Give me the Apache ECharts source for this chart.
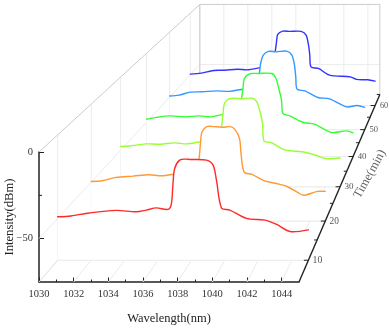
<!DOCTYPE html>
<html>
<head>
<meta charset="utf-8">
<style>html,body{margin:0;padding:0;background:#fff}#c{width:389px;height:328px}</style>
<script src="https://cdn.jsdelivr.net/npm/echarts@6/dist/echarts.min.js"></script>
</head>
<body>
<div id="c"></div>
<script>
// Series values: [wavelength nm, intensity dBm]
const scan10 = [[1030,-49],[1030.8,-48.5],[1031.9,-46.7],[1033.5,-45.2],[1034.7,-46],[1035.3,-45],[1035.9,-43.7],[1036.6,-44.6],[1036.8,-41.4],[1036.9,-29.1],[1037,-20.1],[1037.3,-15.1],[1037.7,-14.5],[1037.9,-14.7],[1038.9,-15.1],[1039.3,-18.1],[1039.5,-27.1],[1039.8,-43.7],[1040.3,-45],[1041.3,-50],[1042.4,-51],[1043.1,-53.6],[1043.9,-57.8],[1045,-56.8]];
const scan20 = [[1030,-49.6],[1030.7,-49.2],[1031.6,-47],[1032.7,-46.2],[1033.7,-45.3],[1034.5,-46],[1035.3,-44.9],[1036,-43.5],[1036.7,-44],[1036.9,-35.6],[1037,-25.2],[1037.1,-17.8],[1037.4,-14.5],[1037.7,-14.3],[1038.4,-14.9],[1038.9,-14.5],[1039.2,-16.2],[1039.5,-22],[1039.6,-31.6],[1039.8,-43.6],[1040.3,-45.1],[1041.1,-49.2],[1041.8,-50.8],[1042.5,-52.7],[1043.2,-56.4],[1043.6,-58.5],[1044.5,-56],[1045,-56]];
const scan30 = [[1030,-47.5],[1030.6,-47.1],[1031.7,-45.7],[1032.7,-45.9],[1033.7,-45],[1034.5,-45.7],[1035.4,-44.4],[1036,-43.8],[1036.7,-44.5],[1036.9,-33.9],[1037,-24.7],[1037.1,-17.9],[1037.4,-14.9],[1037.8,-14.5],[1038.3,-14.8],[1039,-14.5],[1039.3,-16.8],[1039.5,-22.5],[1039.7,-31.6],[1039.8,-43.7],[1040.3,-44.8],[1041.2,-49.8],[1041.8,-50.5],[1042.6,-51.4],[1043.3,-53.3],[1044,-55.7],[1045,-55.3]];
const scan40 = [[1030,-47.9],[1030.7,-46.6],[1031.7,-45.5],[1032.8,-46.2],[1033.8,-45.5],[1034.7,-46.2],[1035.5,-44.4],[1036.1,-43.5],[1036.7,-44.3],[1036.9,-32.8],[1037,-25.6],[1037.1,-18.3],[1037.5,-14.9],[1038.1,-14.7],[1039.1,-14.7],[1039.4,-18.3],[1039.6,-25.6],[1039.8,-34],[1039.9,-43.7],[1040.4,-45.5],[1041.4,-50.3],[1042.2,-51.5],[1043.4,-57.5],[1044.5,-56.4],[1045,-57.8]];
const scan50 = [[1030,-49.2],[1030.7,-48.5],[1031.6,-46.2],[1032.5,-45.9],[1033.6,-45.2],[1034.6,-45.6],[1035.5,-44.1],[1036.1,-43.7],[1036.7,-44.5],[1036.9,-31.7],[1037,-24.1],[1037.2,-17.7],[1037.6,-14.8],[1038.2,-15.2],[1039,-14.6],[1039.4,-17.7],[1039.6,-25.4],[1039.7,-34.4],[1039.8,-43.9],[1040.4,-45.2],[1041.4,-50.3],[1042.3,-51.3],[1043.6,-57.5],[1044.4,-56.4],[1045,-57.9]];
const scan60 = [[1030,-49.5],[1030.9,-48.7],[1031.9,-46.5],[1032.8,-46.3],[1033.8,-45.5],[1034.7,-46],[1035.6,-44.4],[1036.2,-43.6],[1036.7,-44.3],[1036.9,-30.8],[1037,-23.3],[1037.1,-17.3],[1037.5,-14.6],[1038.1,-14.8],[1039,-14.8],[1039.4,-17.8],[1039.6,-26],[1039.7,-34.1],[1039.8,-43.6],[1040.4,-44.9],[1041.3,-50.3],[1043,-51.7],[1043.5,-53.8],[1044.4,-54.1],[1045,-55.2]];

const times = [10, 20, 30, 40, 50, 60];
const scans = [scan10, scan20, scan30, scan40, scan50, scan60];
const colors = ['#ff2a2a', '#ff9933', '#99ff33', '#33ff33', '#3399ff', '#3333ff'];
const timeMinorTicks = [15, 25, 35, 45, 55, 65];
const wlMajor = [1032, 1034, 1036, 1038, 1040, 1042, 1044];
const wlMin = 1030, wlMax = 1045, dbMin = -75, dbMax = 0, timeMin = 5, timeMax = 65;

// perspective of the time axis: every point is pulled towards the vanishing point
const vanish = [562, -328];
const depthK = 0.444;
function scaleAt(t) { return 1 / (1 + depthK * (t - timeMin) / (timeMax - timeMin)); }
function project(api, wl, db, t) {
  const c = api.coord([wl, db]), s = scaleAt(t);
  return [vanish[0] + (c[0] - vanish[0]) * s, vanish[1] + (c[1] - vanish[1]) * s];
}
function seg(a, b, color, w) {
  return { type: 'line', shape: { x1: a[0], y1: a[1], x2: b[0], y2: b[1] }, style: { stroke: color, lineWidth: w } };
}

function renderWalls(params, api) {
  const el = [], soft = '#ececec', edge = '#cccccc';
  // side wall and floor, verticals and horizontals at each time
  times.forEach(t => {
    el.push(seg(project(api, wlMin, dbMax, t), project(api, wlMin, dbMin, t), soft, 1));
    el.push(seg(project(api, wlMin, dbMin, t), project(api, wlMax, dbMin, t), soft, 1));
  });
  // back wall and floor, lines at each wavelength
  wlMajor.forEach(w => {
    el.push(seg(project(api, w, dbMax, timeMax), project(api, w, dbMin, timeMax), soft, 1));
    el.push(seg(project(api, w, dbMin, timeMin), project(api, w, dbMin, timeMax), soft, 1));
  });
  el.push(seg(project(api, wlMin, -50, timeMin), project(api, wlMin, -50, timeMax), soft, 1));
  el.push(seg(project(api, wlMin, -50, timeMax), project(api, wlMax, -50, timeMax), soft, 1));
  el.push(seg(project(api, wlMin, dbMin, timeMax), project(api, wlMax, dbMin, timeMax), soft, 1));
  el.push(seg(project(api, wlMin, dbMin, timeMin), project(api, wlMin, dbMin, timeMax), '#dddddd', 1));
  // wall edges
  el.push(seg(project(api, wlMin, dbMax, timeMin), project(api, wlMin, dbMax, timeMax), edge, 1));
  el.push(seg(project(api, wlMin, dbMax, timeMax), project(api, wlMax, dbMax, timeMax), edge, 1));
  el.push(seg(project(api, wlMin, dbMax, timeMax), project(api, wlMin, dbMin, timeMax), edge, 1.2));
  el.push(seg(project(api, wlMax, dbMax, timeMax), project(api, wlMax, dbMin, timeMax), edge, 1));
  return { type: 'group', children: el };
}

function layerSeries(i) {
  const t = times[i], pts = scans[i], color = colors[i];
  return {
    type: 'custom', coordinateSystem: 'cartesian2d', silent: true, data: pts,
    encode: { x: 0, y: 1 }, clip: false,
    renderItem(params, api) {
      if (params.dataIndex !== 0) return null;
      const line = pts.map(p => project(api, p[0], p[1], t));
      const a = project(api, wlMin, dbMin, t), b = project(api, wlMax, dbMin, t);
      return { type: 'group', children: [
        { type: 'polygon', shape: { points: line.concat([b, a]) }, style: { fill: '#ffffff', stroke: null } },
        seg(a, b, '#ececec', 1),
        { type: 'polyline', shape: { points: line, smooth: 0.3 },
          style: { fill: null, stroke: color, lineWidth: 1.4, lineJoin: 'round', lineCap: 'round' } }
      ] };
    }
  };
}

function renderTimeAxis(params, api) {
  const el = [];
  const ink = '#222222';
  const start = project(api, wlMax, dbMin, timeMin), end = project(api, wlMax, dbMin, timeMax);
  el.push(seg(start, end, ink, 1.4));
  const tick = (t, len) => {
    const p = project(api, wlMax, dbMin, t);
    el.push(seg(p, [p[0] - len, p[1]], ink, 1));
    return p;
  };
  timeMinorTicks.forEach(t => tick(t, 3));
  times.forEach(t => {
    const p = tick(t, 4.5);
    el.push({ type: 'text', style: { text: String(t), x: p[0] + 9, y: p[1], align: 'center', verticalAlign: 'middle',
      fontFamily: '"Liberation Serif"', fontSize: 10 * (0.4 + 0.6 * scaleAt(t)), fill: '#555555' } });
  });
  // short -25 tick on the intensity axis
  const m = api.coord([wlMin, -25]);
  el.push(seg(m, [m[0] + 3, m[1]], ink, 1));
  el.push({ type: 'text', x: 370, y: 174, rotation: 61 * Math.PI / 180,
    style: { text: 'Time(min)', x: 0, y: 0, align: 'center', verticalAlign: 'middle',
      fontFamily: '"Liberation Serif"', fontSize: 12.5, fill: '#666666' } });
  return { type: 'group', children: el };
}

const chart = echarts.init(document.getElementById('c'), null, { renderer: 'canvas' });
const axisLine = { show: true, onZero: false, lineStyle: { color: '#222', width: 1.5 } };
const series = [{ type: 'custom', coordinateSystem: 'cartesian2d', silent: true, data: [[wlMin, dbMin]],
  encode: { x: 0, y: 1 }, clip: false, renderItem: renderWalls }];
for (let i = times.length - 1; i >= 0; i--) series.push(layerSeries(i));
series.push({ type: 'custom', coordinateSystem: 'cartesian2d', silent: true, data: [[wlMax, dbMin]],
  encode: { x: 0, y: 1 }, clip: false, renderItem: renderTimeAxis });

chart.setOption({
  animation: false,
  backgroundColor: '#ffffff',
  grid: { left: 39, top: 152, width: 260, height: 130, containLabel: false, outerBoundsMode: 'none' },
  xAxis: {
    type: 'value', min: wlMin, max: wlMax, interval: 2,
    axisLine: axisLine,
    axisTick: { show: true, inside: true, length: 4.5, lineStyle: { color: '#222', width: 1 },
      customValues: [1030].concat(wlMajor) },
    minorTick: { show: true, splitNumber: 2, length: 2.5, lineStyle: { color: '#222', width: 1 } },
    axisLabel: { customValues: [1030].concat(wlMajor), formatter: v => String(v), color: '#333', margin: 7,
      fontFamily: '"Liberation Serif"', fontSize: 10.5 },
    splitLine: { show: false },
    name: 'Wavelength(nm)', nameLocation: 'middle', nameGap: 30, nameMoveOverlap: false,
    nameTextStyle: { color: '#222', fontFamily: '"Liberation Serif"', fontSize: 12.5 }
  },
  yAxis: {
    type: 'value', min: dbMin, max: dbMax, interval: 25,
    axisLine: axisLine,
    axisTick: { show: true, inside: true, length: 5, lineStyle: { color: '#222', width: 1 }, customValues: [-50, 0] },
    axisLabel: { customValues: [-50, 0], formatter: v => String(v).replace('-', '\u2212'), color: '#333', margin: 6,
      fontFamily: '"Liberation Serif"', fontSize: 10.5 },
    splitLine: { show: false },
    name: 'Intensity(dBm)', nameLocation: 'middle', nameGap: 23, nameMoveOverlap: false,
    nameTextStyle: { color: '#222', fontFamily: '"Liberation Serif"', fontSize: 12.6 }
  },
  series: series
});
</script>
</body>
</html>
